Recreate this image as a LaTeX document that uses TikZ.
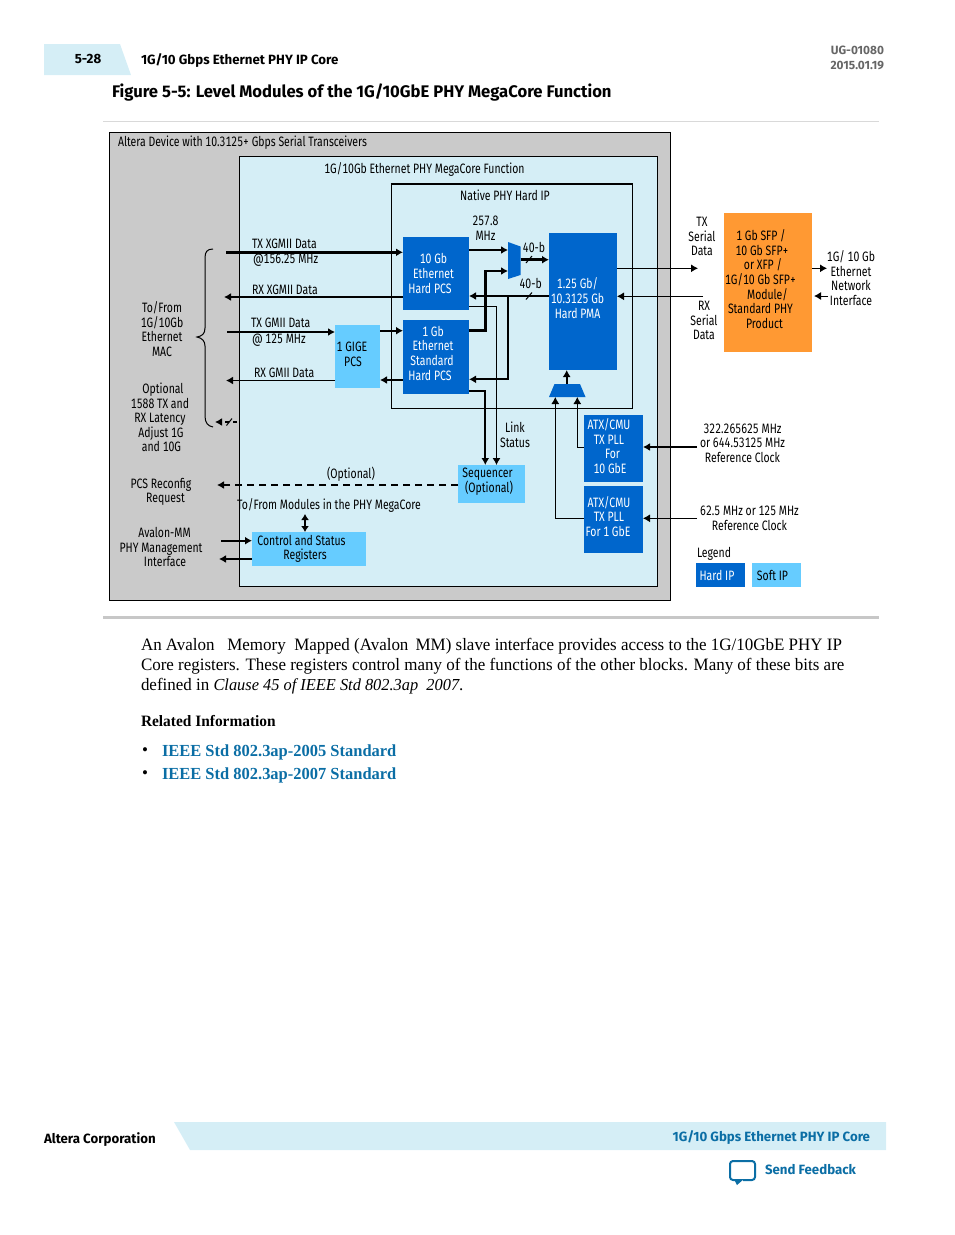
\documentclass[tikz,border=0pt]{standalone}
\usepackage{fontspec}
\setmainfont[FakeStretch=0.975]{Liberation Serif}
\newfontfamily\dgmfont[FakeStretch=0.77,Numbers={Monospaced,Lining}]{Fira Sans}
\newfontfamily\pagefont[FakeStretch=0.99]{Fira Sans}
\usetikzlibrary{positioning}
\usetikzlibrary{arrows.meta}
\definecolor{hardblue}{HTML}{0066CC}
\definecolor{softblue}{HTML}{66CCFF}
\definecolor{paleblue}{HTML}{D5EEF6}
\definecolor{devgray}{HTML}{CACACA}
\definecolor{sfporange}{HTML}{FF9933}
\definecolor{linkblue}{HTML}{0B6EA5}
\newcommand{\dgmsize}{\dgmfont\fontsize{13.6}{14.6}\selectfont}
\newcommand{\headsize}{\pagefont\bfseries\fontsize{13.4}{15}\selectfont}
\newcommand{\lift}[1]{\rule[-#1]{0pt}{0pt}}
\newcommand{\nudge}[1]{\kern #1pt\relax}

\begin{document}
\begin{tikzpicture} [x=1pt, y=-1pt, >={Latex[length=7pt,width=8pt]}, line width=1pt,
        box/.style = {inner sep=0pt, outer sep=0pt, font=\dgmsize, align=center},
        hard/.style = {box, fill=hardblue, text=white},
        soft/.style = {box, fill=softblue, text=black},
        lbl/.style = {inner sep=0pt, outer sep=0pt, font=\dgmsize, align=center},
        lbll/.style = {lbl, anchor=west},
        bus/.style = {line width=2.6pt},
        mid/.style = {line width=1.7pt},
        dashbus/.style = {line width=1.7pt, dash pattern=on 7pt off 5pt},
        page/.style = {inner sep=0pt, outer sep=0pt, anchor=west},
        bodyline/.style = {page, font=\fontsize{17.4}{20}\selectfont}]
        \useasboundingbox (0,0) rectangle (954,1235);

        %Seite
        \fill[paleblue] (44,44) -- (120,44) -- (131,75) -- (44,75) -- cycle;
        \fill[paleblue] (174,1122) -- (886,1122) -- (886,1150) -- (190,1150) -- cycle;
        \draw[black!15] (103,121) -- (879,121);
        \draw[black!22, line width=3pt] (103,617.5) -- (879,617.5);
        \node[page, anchor=center, font=\headsize] (pagenum) at (88,59) {5-28};
        \node[page, font=\headsize] (headtitle) at (141,60.5) {1G/10 Gbps Ethernet PHY IP Core};
        \node[page, anchor=east, text=black!60, font=\pagefont\bfseries\fontsize{12}{15}\selectfont] (docid) at (884,50.5) {UG-01080};
        \node[page, anchor=east, text=black!60, font=\pagefont\bfseries\fontsize{12}{15}\selectfont] (docdate) at (884,65.5) {2015.01.19};
        \node[page, font=\pagefont\bfseries\fontsize{16.8}{20}\selectfont] (figtitle) at (112,93) {Figure 5-5: Level Modules of the 1G/10GbE PHY MegaCore Function};
        \node[page, font=\headsize] (footcorp) at (44,1139.5) {Altera Corporation};
        \node[page, anchor=east, text=linkblue, font=\headsize] (foottitle) at (870,1137.5) {1G/10 Gbps Ethernet PHY IP Core};
        \node[page, text=linkblue, font=\headsize] (feedback) at (765,1170) {Send Feedback};
        \draw[linkblue, line width=2pt, rounded corners=3pt] (736,1180) -- (730,1180) -- (730,1161) -- (755,1161) -- (755,1180) -- (743,1180);
        \fill[linkblue] (734,1179) -- (744,1179) -- (737,1185) -- cycle;

        \node[bodyline] (body1) at (141,646) {An Avalon~~ Memory~ Mapped (Avalon\, MM) slave interface provides access to the 1G/10GbE PHY IP};
        \node[bodyline] (body2) at (141,666) {Core registers. These registers control many of the functions of the other blocks. Many of these bits are};
        \node[bodyline] (body3) at (141,686) {defined in {\fontsize{16.8}{20}\selectfont\itshape Clause 45 of IEEE Std 802.3ap~ 2007}.};
        \node[page, font=\bfseries\fontsize{15.8}{18}\selectfont] (related) at (141,721.5) {Related Information};
        \node[bodyline] (bull1) at (142,752) {\textbullet};
        \node[bodyline] (bull2) at (142,775) {\textbullet};
        \node[page, text=linkblue, font=\bfseries\fontsize{16.9}{20}\selectfont] (link1) at (162,752) {IEEE Std 802.3ap-2005 Standard};
        \node[page, text=linkblue, font=\bfseries\fontsize{16.9}{20}\selectfont] (link2) at (162,775) {IEEE Std 802.3ap-2007 Standard};

        %Flaechen
        \node[draw, fill=devgray, inner sep=0pt, minimum width=561pt, minimum height=468pt] (device) at (390,366.5) {};
        \node[draw, fill=paleblue, inner sep=0pt, minimum width=418.5pt, minimum height=430pt] (core) at (448.5,371.5) {};
        \node[draw, inner sep=0pt, minimum width=241pt, minimum height=224.5pt] (native) at (511.8,296.3) {};
        \draw[line width=2pt] (native.north west) -- (native.north east);

        %Bloecke
        \node[hard, minimum width=66pt, minimum height=73pt] (pcs10) at (436,273.5) {10 Gb\nudge{5}\\Ethernet\nudge{5}\\Hard PCS\nudge{12}};
        \node[hard, minimum width=66pt, minimum height=74pt] (pcs1) [below = 10pt of pcs10] {1 Gb\nudge{6}\\Ethernet\nudge{6}\\Standard\nudge{8}\\Hard PCS\nudge{12}\lift{8pt}};
        \node[hard, minimum width=68pt, minimum height=137pt] (pma) at (583,301.5) {1.25 Gb/\nudge{11}\\10.3125 Gb\nudge{11}\\Hard PMA\nudge{11}\lift{7pt}};
        \node[soft, minimum width=45pt, minimum height=63pt] (gige) at (357.5,356.5) {1 GIGE\nudge{11}\\PCS\nudge{9}\lift{4pt}};
        \node[hard, minimum width=59pt, minimum height=67pt] (atx10) at (613.5,448.5) {ATX/CMU\nudge{9}\\TX PLL\nudge{9}\\For\nudge{2}\\10 GbE\nudge{7}\lift{5pt}};
        \node[hard, minimum width=59pt, minimum height=67pt] (atx1) [below = 4pt of atx10] {ATX/CMU\nudge{9}\\TX PLL\nudge{9}\\For 1 GbE\nudge{11}\lift{6pt}};
        \node[soft, minimum width=67pt, minimum height=38pt] (seq) at (491.5,484) {Sequencer\nudge{8}\\(Optional)\nudge{5}\lift{7pt}};
        \node[soft, minimum width=114pt, minimum height=34pt] (csr) at (309,549) {Control and Status\nudge{15}\\Registers\nudge{8}};
        \node[box, fill=sfporange, text=black, minimum width=88pt, minimum height=139pt] (sfp) at (768,282.5) {1 Gb SFP /\nudge{14}\\10 Gb SFP+\nudge{12}\\or XFP /\nudge{10}\\1G/10 Gb SFP+\nudge{15}\\Module/\nudge{1}\\Standard PHY\nudge{15}\\Product\nudge{7}\lift{7pt}};
        \node[hard, minimum width=49pt, minimum height=24pt] (hardkey) at (720.5,575) {Hard IP\nudge{7}};
        \node[soft, minimum width=49pt, minimum height=24pt] (softkey) [right = 7pt of hardkey] {Soft IP\nudge{8}};

        %Muxe
        \fill[hardblue] (508,242) -- (520.5,246.5) -- (520.5,275) -- (508,279) -- cycle;
        \fill[hardblue] (554.5,384) -- (580,384) -- (585.5,397) -- (549,397) -- cycle;
        \coordinate (muxa) at (508,250);
        \coordinate (muxb) at (508,271);
        \coordinate (muxc) at (520.5,259.7);
        \coordinate (selt) at (566.7,384);
        \coordinate (sela) at (555.3,397);
        \coordinate (selb) at (577.3,397);

        %Texte
        \node[lbll] (devlabel) at (118,143) {Altera Device with 10.3125+ Gbps Serial Transceivers};
        \node[lbl] (corelabel) at (424.5,169.5) {1G/10Gb Ethernet PHY MegaCore Function};
        \node[lbl] (nativelabel) at (505,195) {Native PHY Hard IP};
        \node[lbl] (clklabel) at (485.5,228.5) {257.8\\MHz};
        \node[lbl] (bita) at (534,247.5) {40-b};
        \node[lbl] (bitb) at (530.7,283) {40-b};
        \node[lbll] (txx) at (252,243.5) {TX XGMII Data};
        \node[lbll] (txxclk) at (253,260.5) {@156.25 MHz};
        \node[lbll] (rxx) at (252,289.5) {RX XGMII Data};
        \node[lbll] (txg) at (251,322.5) {TX GMII Data};
        \node[lbll] (txgclk) at (252,340.5) {@ 125 MHz};
        \node[lbll] (rxg) at (254,372.5) {RX GMII Data};
        \node[lbl] (maclabel) at (162,329) {To/From\\1G/10Gb\\Ethernet\\MAC};
        \node[lbl] (latency) at (160,417.5) {\nudge{6}Optional\\1588 TX and\\RX Latency\\\nudge{2}Adjust 1G\\\nudge{3}and 10G};
        \node[lbl] (reconfig) at (161,492) {PCS Reconfig\\\nudge{9}Request};
        \node[lbl] (avalon) at (161,547) {\nudge{7}Avalon-MM\\PHY Management\\\nudge{8}Interface};
        \node[lbl] (optlabel) at (351,474.5) {(Optional)};
        \node[lbl] (modules) at (329,505.5) {To/From Modules in the PHY MegaCore};
        \node[lbl] (linkstatus) at (515,434.5) {Link\\Status};
        \node[lbl] (refa) at (742.5,443) {322.265625 MHz\\or 644.53125 MHz\\Reference Clock};
        \node[lbl] (refb) at (749.5,518.5) {62.5 MHz or 125 MHz\\Reference Clock};
        \node[lbll] (legend) at (697,553.5) {Legend};
        \node[lbl] (txserial) at (702,236.5) {TX\\Serial\\Data};
        \node[lbl] (rxserial) at (704,320.5) {RX\\Serial\\Data};
        \node[lbl] (netlabel) at (851,278) {1G/ 10 Gb\\Ethernet\\Network\\Interface};

        %Kanten
        \coordinate (txxend) at (226,252.3);
        \coordinate (rxxend) at (224,297);
        \coordinate (txgend) at (227,332);
        \coordinate (rxgend) at (226,380.5);
        \draw[->, bus] (txxend) -- (txxend -| pcs10.west);
        \draw[->, mid] (rxxend -| pcs10.west) -- (rxxend);
        \draw[->, mid] (txgend) -- (txgend -| gige.west);
        \draw[->, mid] (rxgend -| gige.west) -- (rxgend);
        \coordinate (gigea) at (380,330.7);
        \coordinate (gigeb) at (380,380);
        \draw[->, mid] (gigea) -- (gigea -| pcs1.west);
        \draw[->, mid] (gigeb -| pcs1.west) -- (gigeb);

        \coordinate (pcsa) at (469,250);
        \coordinate (pcsb) at (469,330.7);
        \coordinate (pcsc) at (469,296);
        \coordinate (pcsd) at (469,379.3);
        \coordinate (pcse) at (469,390.7);
        \coordinate (pcsf) at (469,306.3);
        \coordinate (seqa) at (485.3,465);
        \coordinate (seqb) at (496.5,465);
        \draw[->, mid] (pcsa) -- (muxa);
        \draw[->, bus] (pcsb) -- (485.3,330.7) -- (485.3,271) -- (muxb);
        \draw[->, bus] (muxc) -- (muxc -| pma.west);
        \draw[->, bus] (pcsc -| pma.west) -- (pcsc);
        \draw[->, mid] (508.3,296) -- (508.3,379.3) -- (pcsd);
        \draw[->, mid] (pcse) -- (485.3,390.7) -- (seqa);
        \draw[->] (pcsf) -- (496.5,306.3) -- (seqb);
        \draw (526,263) -- (532,256);
        \draw (526,299.5) -- (532,292.5);

        \draw[->, mid] (selt) -- (selt |- pma.south);
        \draw[->] (atx10.west |- 0,447) -- (577.3,447) -- (selb);
        \draw[->] (atx1.west |- 0,518.3) -- (555.3,518.3) -- (sela);
        \coordinate (refaend) at (697,447);
        \coordinate (refbend) at (697,518.3);
        \draw[->, mid] (refaend) -- (refaend -| atx10.east);
        \draw[->] (refbend) -- (refbend -| atx1.east);

        \coordinate (txout) at (698,268.3);
        \coordinate (rxin) at (703,296.3);
        \draw[->] (txout -| pma.east) -- (txout);
        \draw[->] (rxin) -- (rxin -| pma.east);
        \coordinate (netout) at (827,268.3);
        \coordinate (netin) at (828,296);
        \draw[->] (netout -| sfp.east) -- (netout);
        \draw[->] (netin) -- (814,296);

        \coordinate (optend) at (217,485);
        \draw[->, dashbus] (seq.west |- optend) -- (optend);
        \coordinate (dashstart) at (237,422);
        \coordinate (dashend) at (215,422);
        \draw[->, dashbus, dash pattern=on 4pt off 4pt] (dashstart) -- (dashend);
        \draw (226.5,425.5) -- (232,418.5);

        \coordinate (bothtop) at (305,514);
        \draw[<->, line width=2.4pt, >={Latex[length=6pt,width=8pt]}] (bothtop) -- (bothtop |- csr.north);
        \coordinate (avin) at (221,540.7);
        \coordinate (avout) at (219,559);
        \draw[->, mid] (avin) -- (avin -| csr.west);
        \draw[->, mid] (avout -| csr.west) -- (avout);

        %Klammer
        \draw (213,249) .. controls (207,249) and (205,252) .. (205,258) -- (205,328) .. controls (205,334) and (202,336) .. (197,337) .. controls (202,338) and (205,341) .. (205,346) -- (205,416) .. controls (205,423) and (208,426) .. (213,427);
\end{tikzpicture}
\end{document}
